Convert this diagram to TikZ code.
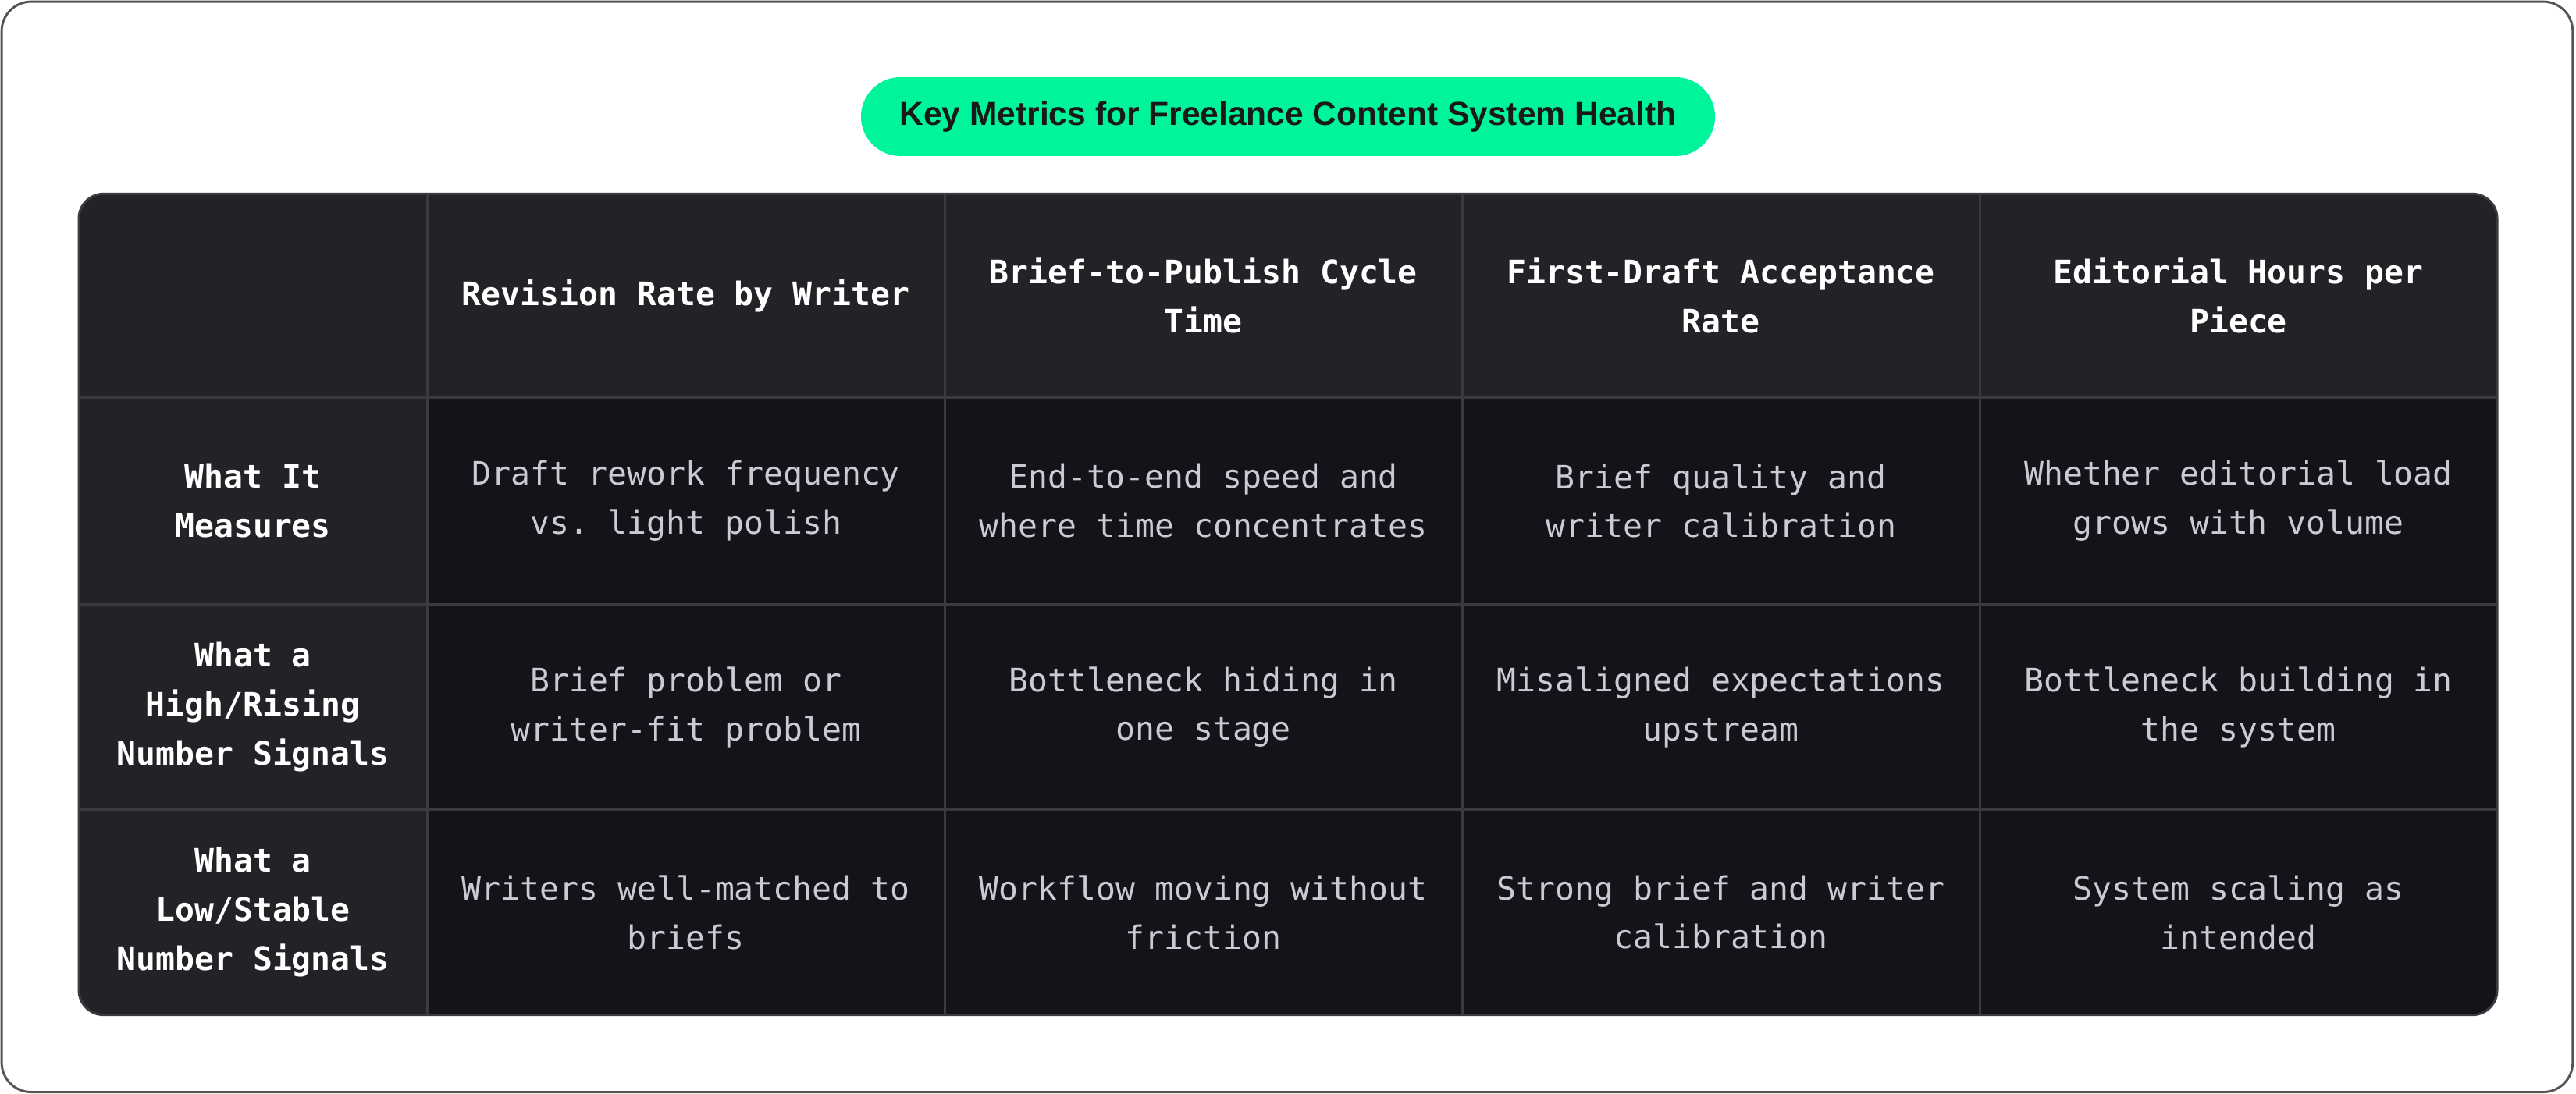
\documentclass[tikz,border=0pt]{standalone}
\usepackage{fontspec}
\setmainfont{Liberation Sans}
\setmonofont{DejaVu Sans Mono}
\definecolor{pill}{HTML}{00F59B}
\definecolor{hdr}{HTML}{222227}
\definecolor{cell}{HTML}{131419}
\definecolor{grid}{HTML}{3A3B40}
\definecolor{body}{HTML}{C9CAD2}
\definecolor{frame}{HTML}{555555}
\begin{document}
\begin{tikzpicture}[x=0.02cm,y=-0.02cm,
  hd/.style={text=white,font=\ttfamily\bfseries\fontsize{11.2}{17}\selectfont,align=center},
  bd/.style={text=body,font=\ttfamily\fontsize{11.2}{17}\selectfont,align=center},
  gl/.style={draw=grid,line width=0.8pt}]
\useasboundingbox (0,0) rectangle (1568,666);
\draw[frame,fill=white,line width=0.8pt,rounded corners=0.36cm] (1,1) rectangle (1566,665);
\node[fill=pill,rounded corners=0.48cm,minimum width=10.4cm,minimum height=0.96cm,font=\bfseries\fontsize{11.5}{14}\selectfont,text=black!90] (title) at (784,71) {Key Metrics for Freelance Content System Health};
% table
\fill[cell,rounded corners=0.3cm] (48,118) rectangle (1520,618);
\begin{scope}
\clip[rounded corners=0.3cm] (48,118) rectangle (1520,618);
\fill[hdr] (48,118) rectangle (1520,242);
\fill[hdr] (48,118) rectangle (260,618);
\foreach \x in {260,575,890,1205} \draw[gl] (\x,118) -- (\x,618);
\foreach \y in {242,368,493} \draw[gl] (48,\y) -- (1520,\y);
\end{scope}
\draw[grid,line width=0.8pt,rounded corners=0.3cm] (48,118) rectangle (1520,618);
% headers
\node[hd] (h1) at (417.5,180) {Revision Rate by Writer};
\node[hd] (h2) at (732.5,180) {Brief-to-Publish Cycle\\Time};
\node[hd] (h3) at (1047.5,180) {First-Draft Acceptance\\Rate};
\node[hd] (h4) at (1362.5,180) {Editorial Hours per\\Piece};
\node[hd] (r1) at (154,305) {What It\\Measures};
\node[hd] (r2) at (154,430.5) {What a\\High/Rising\\Number Signals};
\node[hd] (r3) at (154,555.5) {What a\\Low/Stable\\Number Signals};
% body
\node[bd] (c11) at (417.5,305) {Draft rework frequency\\vs. light polish};
\node[bd] (c12) at (732.5,305) {End-to-end speed and\\where time concentrates};
\node[bd] (c13) at (1047.5,305) {Brief quality and\\writer calibration};
\node[bd] (c14) at (1362.5,305) {Whether editorial load\\grows with volume};
\node[bd] (c21) at (417.5,430.5) {Brief problem or\\writer-fit problem};
\node[bd] (c22) at (732.5,430.5) {Bottleneck hiding in\\one stage};
\node[bd] (c23) at (1047.5,430.5) {Misaligned expectations\\upstream};
\node[bd] (c24) at (1362.5,430.5) {Bottleneck building in\\the system};
\node[bd] (c31) at (417.5,555.5) {Writers well-matched to\\briefs};
\node[bd] (c32) at (732.5,555.5) {Workflow moving without\\friction};
\node[bd] (c33) at (1047.5,555.5) {Strong brief and writer\\calibration};
\node[bd] (c34) at (1362.5,555.5) {System scaling as\\intended};
\end{tikzpicture}
\end{document}
